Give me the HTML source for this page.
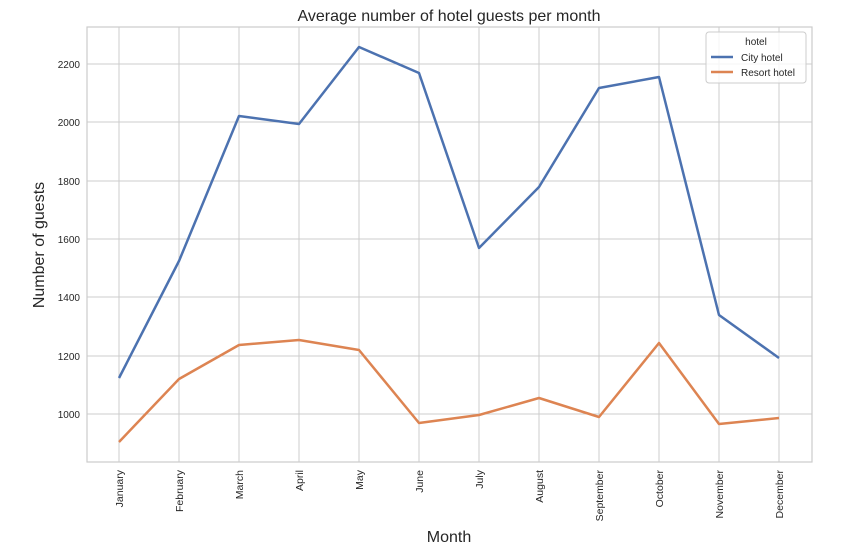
<!DOCTYPE html>
<html><head><meta charset="utf-8"><style>body{margin:0;background:#fff}</style></head><body>
<svg width="850" height="552" xmlns="http://www.w3.org/2000/svg" font-family="Liberation Sans, sans-serif">
<rect width="850" height="552" fill="#fff"/>
<g stroke="#cccccc" stroke-width="1">
<line x1="119" y1="27" x2="119" y2="462"/><line x1="179" y1="27" x2="179" y2="462"/><line x1="239" y1="27" x2="239" y2="462"/><line x1="299" y1="27" x2="299" y2="462"/><line x1="359" y1="27" x2="359" y2="462"/><line x1="419" y1="27" x2="419" y2="462"/><line x1="479" y1="27" x2="479" y2="462"/><line x1="539" y1="27" x2="539" y2="462"/><line x1="599" y1="27" x2="599" y2="462"/><line x1="659" y1="27" x2="659" y2="462"/><line x1="719" y1="27" x2="719" y2="462"/><line x1="779" y1="27" x2="779" y2="462"/>
<line x1="87" y1="64" x2="812" y2="64"/><line x1="87" y1="122" x2="812" y2="122"/><line x1="87" y1="181" x2="812" y2="181"/><line x1="87" y1="239" x2="812" y2="239"/><line x1="87" y1="297" x2="812" y2="297"/><line x1="87" y1="356" x2="812" y2="356"/><line x1="87" y1="414" x2="812" y2="414"/>
</g>
<rect x="87" y="27" width="725" height="435" fill="none" stroke="#cccccc" stroke-width="1.2"/>
<g font-size="10" fill="#262626" text-anchor="end">
<text x="80" y="68">2200</text><text x="80" y="126">2000</text><text x="80" y="185">1800</text><text x="80" y="243">1600</text><text x="80" y="301">1400</text><text x="80" y="360">1200</text><text x="80" y="418">1000</text>
</g>
<g font-size="10.5" fill="#262626" text-anchor="end">
<text transform="translate(123,470) rotate(-90)">January</text>
<text transform="translate(183,470) rotate(-90)">February</text>
<text transform="translate(243,470) rotate(-90)">March</text>
<text transform="translate(303,470) rotate(-90)">April</text>
<text transform="translate(363,470) rotate(-90)">May</text>
<text transform="translate(423,470) rotate(-90)">June</text>
<text transform="translate(483,470) rotate(-90)">July</text>
<text transform="translate(543,470) rotate(-90)">August</text>
<text transform="translate(603,470) rotate(-90)">September</text>
<text transform="translate(663,470) rotate(-90)">October</text>
<text transform="translate(723,470) rotate(-90)">November</text>
<text transform="translate(783,470) rotate(-90)">December</text>
</g>
<text x="449" y="21" font-size="16" text-anchor="middle" fill="#262626">Average number of hotel guests per month</text>
<text x="449" y="542" font-size="16" text-anchor="middle" fill="#262626">Month</text>
<text transform="translate(44,245) rotate(-90)" font-size="16" text-anchor="middle" fill="#262626">Number of guests</text>
<polyline fill="none" stroke="#4c72b0" stroke-width="2.5" stroke-linejoin="round" points="119,378 179,261 239,116 299,124 359,47 419,73 479,248 539,187 599,88 659,77 719,315 779,358"/>
<polyline fill="none" stroke="#dd8452" stroke-width="2.5" stroke-linejoin="round" points="119,442 179,379 239,345 299,340 359,350 419,423 479,415 539,398 599,417 659,343 719,424 779,418"/>
<rect x="706" y="32" width="100" height="51" rx="3" fill="#fff" fill-opacity="0.8" stroke="#cccccc"/>
<text x="756" y="45" font-size="10" text-anchor="middle" fill="#262626">hotel</text>
<line x1="711" y1="57" x2="733" y2="57" stroke="#4c72b0" stroke-width="2.5"/>
<text x="741" y="61" font-size="10" fill="#262626">City hotel</text>
<line x1="711" y1="72" x2="733" y2="72" stroke="#dd8452" stroke-width="2.5"/>
<text x="741" y="76" font-size="10" fill="#262626">Resort hotel</text>
</svg>
</body></html>
